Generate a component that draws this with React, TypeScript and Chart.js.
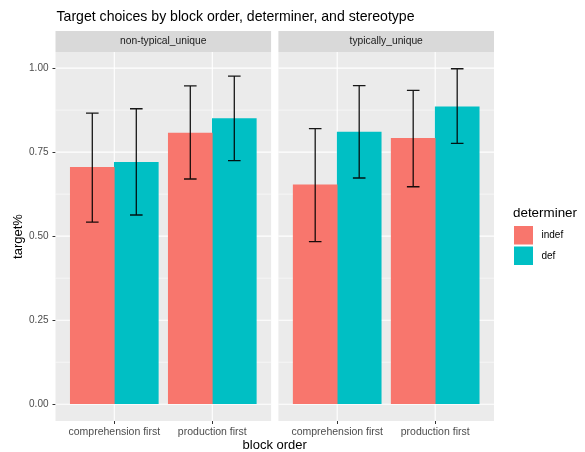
import React, { useEffect, useRef } from 'react';
import { Chart, registerables } from 'chart.js';

Chart.register(...registerables);

// ---------- data ----------
const TITLE = 'Target choices by block order, determiner, and stereotype';
const PANELS = ['non-typical_unique', 'typically_unique'];
const CATEGORIES = ['comprehension first', 'production first'];
const DETERMINERS = ['indef', 'def'];
const COLORS = ['#F8766D', '#00BFC4'];
// values are [panel][category]
const INDEF_MEAN = [[0.705, 0.807], [0.653, 0.791]];
const DEF_MEAN = [[0.72, 0.85], [0.81, 0.885]];
const INDEF_LOW = [[0.542, 0.67], [0.484, 0.647]];
const INDEF_HIGH = [[0.866, 0.947], [0.82, 0.934]];
const DEF_LOW = [[0.563, 0.725], [0.673, 0.776]];
const DEF_HIGH = [[0.879, 0.976], [0.948, 0.998]];
const Y_TICKS = [0, 0.25, 0.5, 0.75, 1];
const Y_TICK_LABELS = ['0.00', '0.25', '0.50', '0.75', '1.00'];
const X_TITLE = 'block order';
const Y_TITLE = 'target%';
const LEGEND_TITLE = 'determiner';

const MEANS = [INDEF_MEAN, DEF_MEAN];
const LOWS = [INDEF_LOW, DEF_LOW];
const HIGHS = [INDEF_HIGH, DEF_HIGH];

// ---------- layout helpers (facet geometry in x units) ----------
const EXPAND = 0.6;
const PANEL_SPAN = CATEGORIES.length - 1 + 2 * EXPAND;
const GAP = 0.0745;
const panelStart = (p: number) => p * (PANEL_SPAN + GAP);
const xPos = (p: number, c: number) => panelStart(p) + EXPAND + c;
const X_MAX = PANELS.length * PANEL_SPAN + (PANELS.length - 1) * GAP;
const X_TICK_POS = PANELS.flatMap((_, p) => CATEGORIES.map((_, c) => xPos(p, c)));
const X_TICK_LABELS = PANELS.flatMap(() => CATEGORIES);

const FONT = '"Liberation Sans", Arial, Helvetica, sans-serif';
const STRIP_TOP = 31;

const facetPlugin = {
  id: 'facet',
  beforeDatasetsDraw(chart: any) {
    const { ctx, chartArea, scales } = chart;
    const x = scales.x;
    const y = scales.y;
    const minors: number[] = [];
    for (let i = 0; i < Y_TICKS.length - 1; i++) minors.push((Y_TICKS[i] + Y_TICKS[i + 1]) / 2);
    PANELS.forEach((name, p) => {
      const left = x.getPixelForValue(panelStart(p));
      const right = x.getPixelForValue(panelStart(p) + PANEL_SPAN);
      ctx.save();
      ctx.fillStyle = '#EBEBEB';
      ctx.fillRect(left, chartArea.top, right - left, chartArea.bottom - chartArea.top);
      ctx.strokeStyle = '#FFFFFF';
      ctx.lineWidth = 0.55;
      minors.forEach((v) => {
        const py = y.getPixelForValue(v);
        ctx.beginPath();
        ctx.moveTo(left, py);
        ctx.lineTo(right, py);
        ctx.stroke();
      });
      ctx.lineWidth = 1.1;
      Y_TICKS.forEach((v) => {
        const py = y.getPixelForValue(v);
        ctx.beginPath();
        ctx.moveTo(left, py);
        ctx.lineTo(right, py);
        ctx.stroke();
      });
      CATEGORIES.forEach((_, c) => {
        const px = x.getPixelForValue(xPos(p, c));
        ctx.beginPath();
        ctx.moveTo(px, chartArea.top);
        ctx.lineTo(px, chartArea.bottom);
        ctx.stroke();
      });
      // strip
      ctx.fillStyle = '#D9D9D9';
      ctx.fillRect(left, STRIP_TOP, right - left, chartArea.top - STRIP_TOP);
      ctx.fillStyle = '#1A1A1A';
      ctx.font = `10.3px ${FONT}`;
      ctx.textAlign = 'center';
      ctx.textBaseline = 'middle';
      ctx.fillText(name, (left + right) / 2, (STRIP_TOP + chartArea.top) / 2);
      ctx.restore();
    });
  },
  afterDatasetsDraw(chart: any) {
    const { ctx } = chart;
    const y = chart.scales.y;
    ctx.save();
    ctx.strokeStyle = 'rgba(0,0,0,0.9)';
    ctx.lineWidth = 1.3;
    DETERMINERS.forEach((_, d) => {
      const meta = chart.getDatasetMeta(d);
      const lows = LOWS[d].flat();
      const highs = HIGHS[d].flat();
      meta.data.forEach((bar: any, j: number) => {
        const cx = bar.x;
        const y1 = y.getPixelForValue(lows[j]);
        const y2 = y.getPixelForValue(highs[j]);
        const hw = 6.3;
        ctx.beginPath();
        ctx.moveTo(cx, y1);
        ctx.lineTo(cx, y2);
        ctx.moveTo(cx - hw, y1);
        ctx.lineTo(cx + hw, y1);
        ctx.moveTo(cx - hw, y2);
        ctx.lineTo(cx + hw, y2);
        ctx.stroke();
      });
    });
    ctx.restore();
  },
  afterDraw(chart: any) {
    const { ctx, chartArea } = chart;
    ctx.save();
    // title
    ctx.fillStyle = '#000000';
    ctx.font = `14.1px ${FONT}`;
    ctx.textAlign = 'left';
    ctx.textBaseline = 'middle';
    ctx.fillText(TITLE, chartArea.left + 1, 17);
    // legend
    ctx.font = `13.4px ${FONT}`;
    ctx.fillText(LEGEND_TITLE, 513, 213);
    DETERMINERS.forEach((label, d) => {
      const top = 226 + d * 20.5;
      ctx.fillStyle = COLORS[d];
      ctx.fillRect(514, top, 19, 18.5);
      ctx.fillStyle = '#000000';
      ctx.font = `10px ${FONT}`;
      ctx.fillText(label, 541.5, top + 9.5);
    });
    ctx.restore();
  },
};

export default function App() {
  const ref = useRef<HTMLCanvasElement | null>(null);
  useEffect(() => {
    document.body.style.margin = '0';
    if (!ref.current) return;
    const datasets = DETERMINERS.map((label, d) => ({
      label,
      data: PANELS.flatMap((_, p) => CATEGORIES.map((_, c) => ({ x: xPos(p, c), y: MEANS[d][p][c] }))),
      backgroundColor: COLORS[d],
      borderWidth: 0,
      barThickness: 44,
    }));
    const chart = new Chart(ref.current, {
      type: 'bar',
      data: { datasets },
      options: {
        animation: false,
        responsive: false,
        devicePixelRatio: 1,
        layout: { padding: { top: 52, right: 91, left: 0, bottom: 0 } },
        plugins: { legend: { display: false }, tooltip: { enabled: false }, title: { display: false } },
        scales: {
          x: {
            type: 'linear',
            min: 0,
            max: X_MAX,
            offset: false,
            afterBuildTicks: (s: any) => {
              s.ticks = X_TICK_POS.map((v) => ({ value: v }));
            },
            afterFit: (s: any) => {
              s.height = 31;
            },
            ticks: {
              autoSkip: false,
              maxRotation: 0,
              color: '#4D4D4D',
              font: { family: FONT, size: 10.5 },
              padding: 2,
              callback: (_v: any, i: number) => X_TICK_LABELS[i],
            },
            grid: { offset: false, drawOnChartArea: false, drawTicks: true, tickLength: 3, color: '#333333' },
            border: { display: false },
            title: { display: true, text: X_TITLE, color: '#000000', font: { family: FONT, size: 13, lineHeight: 1 }, padding: 0 },
          },
          y: {
            min: -0.0499,
            max: 1.0479,
            afterBuildTicks: (s: any) => {
              s.ticks = Y_TICKS.map((v) => ({ value: v }));
            },
            afterFit: (s: any) => {
              s.width = 55.5;
            },
            ticks: {
              color: '#4D4D4D',
              font: { family: FONT, size: 10 },
              padding: 4,
              callback: (v: any) => Y_TICK_LABELS[Y_TICKS.indexOf(Number(v))],
            },
            grid: { drawOnChartArea: false, drawTicks: true, tickLength: 3, color: '#333333' },
            border: { display: false },
            title: { display: true, text: Y_TITLE, color: '#000000', font: { family: FONT, size: 13, lineHeight: 1.2 }, padding: { top: 11, bottom: 0 } },
          },
        },
      },
      plugins: [facetPlugin],
    });
    return () => chart.destroy();
  }, []);
  return <canvas ref={ref} width={585} height={452} style={{ display: 'block' }} />;
}
